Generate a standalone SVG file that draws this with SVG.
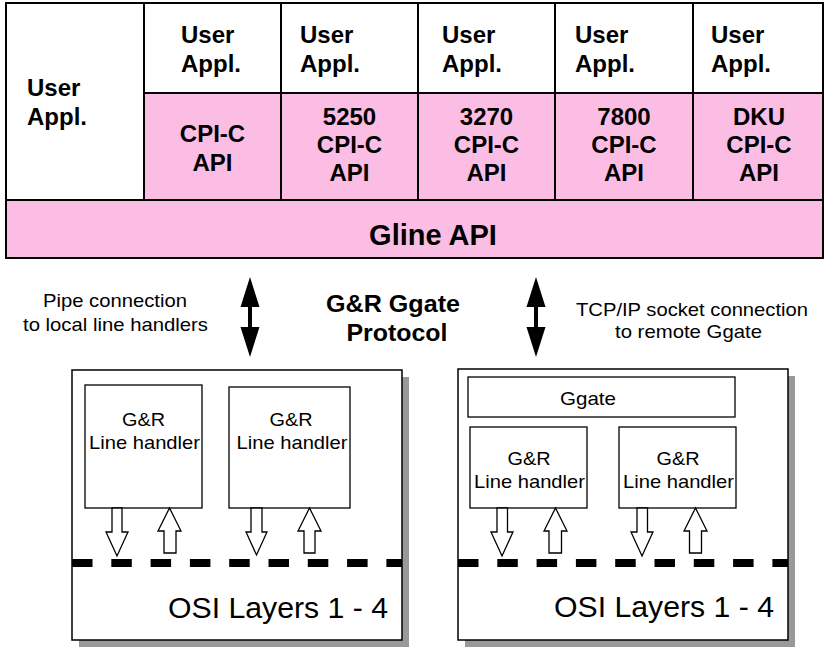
<svg xmlns="http://www.w3.org/2000/svg" width="826" height="648" viewBox="0 0 826 648">
<style>
  .t{font-family:"Liberation Sans",Arial,Helvetica,sans-serif;fill:#000}
  .b{font-weight:bold;font-size:24px}
  .g{font-weight:bold;font-size:29px}
  .m{text-anchor:middle}
  .e{text-anchor:end}
  .r{font-size:19px}
  .o{font-size:29px}
  .w{fill:#fff;stroke:#000;stroke-width:2}
  .p{fill:#fbbde3;stroke:#000;stroke-width:2}
  .box{fill:#fff;stroke:#000;stroke-width:1.5}
  .sh{fill:#999}
  .inner{fill:#fff;stroke:#000;stroke-width:1.3}
  .hollow{fill:#fff;stroke:#000;stroke-width:1.3;stroke-linejoin:miter}
  .dash{stroke:#000;stroke-width:8;stroke-dasharray:20.5 18.8;fill:none}
  .dbl{fill:#000}
</style>

<g id="user-appl-0">
  <rect class="w" x="6" y="3" width="138" height="197"/>
  <text class="t b" x="27" y="96">User</text>
  <text class="t b" x="27" y="125">Appl.</text>
</g>
<g id="user-appl-1">
  <rect class="w" x="144" y="3" width="137" height="90"/>
  <text class="t b" x="181" y="43">User</text>
  <text class="t b" x="181" y="72">Appl.</text>
</g>
<g id="user-appl-2">
  <rect class="w" x="281" y="3" width="137" height="90"/>
  <text class="t b" x="300" y="43">User</text>
  <text class="t b" x="300" y="72">Appl.</text>
</g>
<g id="user-appl-3">
  <rect class="w" x="418" y="3" width="137" height="90"/>
  <text class="t b" x="442" y="43">User</text>
  <text class="t b" x="442" y="72">Appl.</text>
</g>
<g id="user-appl-4">
  <rect class="w" x="555" y="3" width="138" height="90"/>
  <text class="t b" x="575" y="43">User</text>
  <text class="t b" x="575" y="72">Appl.</text>
</g>
<g id="user-appl-5">
  <rect class="w" x="693" y="3" width="130" height="90"/>
  <text class="t b" x="711" y="43">User</text>
  <text class="t b" x="711" y="72">Appl.</text>
</g>

<g id="cpic-api">
  <rect class="p" x="144" y="93" width="137" height="107"/>
  <text class="t b m" x="212.5" y="142">CPI-C</text>
  <text class="t b m" x="212.5" y="171">API</text>
</g>
<g id="cpic-5250">
  <rect class="p" x="281" y="93" width="137" height="107"/>
  <text class="t b m" x="349.5" y="125">5250</text>
  <text class="t b m" x="349.5" y="153">CPI-C</text>
  <text class="t b m" x="349.5" y="181">API</text>
</g>
<g id="cpic-3270">
  <rect class="p" x="418" y="93" width="137" height="107"/>
  <text class="t b m" x="486.5" y="125">3270</text>
  <text class="t b m" x="486.5" y="153">CPI-C</text>
  <text class="t b m" x="486.5" y="181">API</text>
</g>
<g id="cpic-7800">
  <rect class="p" x="555" y="93" width="138" height="107"/>
  <text class="t b m" x="624" y="125">7800</text>
  <text class="t b m" x="624" y="153">CPI-C</text>
  <text class="t b m" x="624" y="181">API</text>
</g>
<g id="cpic-dku">
  <rect class="p" x="693" y="93" width="130" height="107"/>
  <text class="t b m" x="759" y="125">DKU</text>
  <text class="t b m" x="759" y="153">CPI-C</text>
  <text class="t b m" x="759" y="181">API</text>
</g>
<g id="gline-api">
  <rect class="p" x="6" y="200" width="817" height="58"/>
  <text class="t g m" x="433" y="245">Gline API</text>
</g>

<g id="labels">
  <text class="t r m" x="115" y="307" textLength="144" lengthAdjust="spacingAndGlyphs">Pipe connection</text>
  <text class="t r m" x="115.5" y="331" textLength="185" lengthAdjust="spacingAndGlyphs">to local line handlers</text>
  <text class="t m" style="font-weight:bold;font-size:23px" x="393" y="312" textLength="134" lengthAdjust="spacingAndGlyphs">G&amp;R Ggate</text>
  <text class="t m" style="font-weight:bold;font-size:23px" x="397" y="341" textLength="101" lengthAdjust="spacingAndGlyphs">Protocol</text>
  <text class="t r m" x="692" y="316" textLength="232" lengthAdjust="spacingAndGlyphs">TCP/IP socket connection</text>
  <text class="t r m" x="688.5" y="338" textLength="147" lengthAdjust="spacingAndGlyphs">to remote Ggate</text>
</g>

<g id="local-system">
  <rect class="sh" x="79" y="377" width="330" height="270"/>
  <rect class="box" x="72" y="370" width="330" height="270"/>
  <text class="t o e" x="388" y="618" textLength="220" lengthAdjust="spacingAndGlyphs">OSI Layers 1 - 4</text>
</g>
<g id="line-handler-1">
  <rect class="inner" x="85" y="385" width="117" height="123"/>
  <text class="t r m" x="143.5" y="426" textLength="43" lengthAdjust="spacingAndGlyphs">G&amp;R</text>
  <text class="t r m" x="144.5" y="449" textLength="111" lengthAdjust="spacingAndGlyphs">Line handler</text>
</g>
<g id="line-handler-2">
  <rect class="inner" x="229" y="387" width="121" height="121"/>
  <text class="t r m" x="291" y="426" textLength="43" lengthAdjust="spacingAndGlyphs">G&amp;R</text>
  <text class="t r m" x="292" y="449" textLength="111" lengthAdjust="spacingAndGlyphs">Line handler</text>
</g>

<g id="remote-system">
  <rect class="sh" x="465" y="376" width="330" height="271"/>
  <rect class="box" x="458" y="369" width="330" height="271"/>
  <text class="t o e" x="774" y="617" textLength="220" lengthAdjust="spacingAndGlyphs">OSI Layers 1 - 4</text>
</g>
<g id="ggate">
  <rect class="inner" x="468" y="377" width="267" height="40"/>
  <text class="t r m" x="588" y="405" textLength="56" lengthAdjust="spacingAndGlyphs">Ggate</text>
</g>
<g id="line-handler-3">
  <rect class="inner" x="470" y="427" width="117" height="81"/>
  <text class="t r m" x="529" y="465" textLength="43" lengthAdjust="spacingAndGlyphs">G&amp;R</text>
  <text class="t r m" x="529.5" y="488" textLength="111" lengthAdjust="spacingAndGlyphs">Line handler</text>
</g>
<g id="line-handler-4">
  <rect class="inner" x="619" y="427" width="117" height="81"/>
  <text class="t r m" x="678" y="465" textLength="43" lengthAdjust="spacingAndGlyphs">G&amp;R</text>
  <text class="t r m" x="678.5" y="488" textLength="111" lengthAdjust="spacingAndGlyphs">Line handler</text>
</g>

<g id="connectors">
  <!-- double arrows -->
  <polygon class="dbl" points="250,277 240.5,307 248,307 248,327 240.5,327 250,357 259.5,327 252,327 252,307 259.5,307"/>
  <polygon class="dbl" points="536,277 526.5,307 534,307 534,327 526.5,327 536,357 545.5,327 538,327 538,307 545.5,307"/>
  <!-- OSI boundary dashed lines -->
  <line class="dash" x1="72" y1="563" x2="402" y2="563"/>
  <line class="dash" x1="458" y1="563" x2="788" y2="563"/>
  <!-- hollow arrows, local -->
  <polygon class="hollow" points="112,508 122,508 122,532 128,532 117,556 106,532 112,532"/>
  <polygon class="hollow" points="169.5,508 181,531 176,531 176,553 164,553 164,531 158,531"/>
  <polygon class="hollow" points="251,508 262,508 262,532 267,532 256.5,555 246,532 251,532"/>
  <polygon class="hollow" points="309.5,508 321,531 315,531 315,553 304,553 304,531 298,531"/>
  <!-- hollow arrows, remote -->
  <polygon class="hollow" points="497,508 507.5,508 507.5,532 513,532 502,556 491,532 497,532"/>
  <polygon class="hollow" points="555.5,508 567,531 561.5,531 561.5,553 549,553 549,531 544,531"/>
  <polygon class="hollow" points="637,508 647.5,508 647.5,532 653,532 642,556 631,532 637,532"/>
  <polygon class="hollow" points="695.5,508 707,531 701.5,531 701.5,553 689.5,553 689.5,531 684,531"/>
</g>
</svg>
